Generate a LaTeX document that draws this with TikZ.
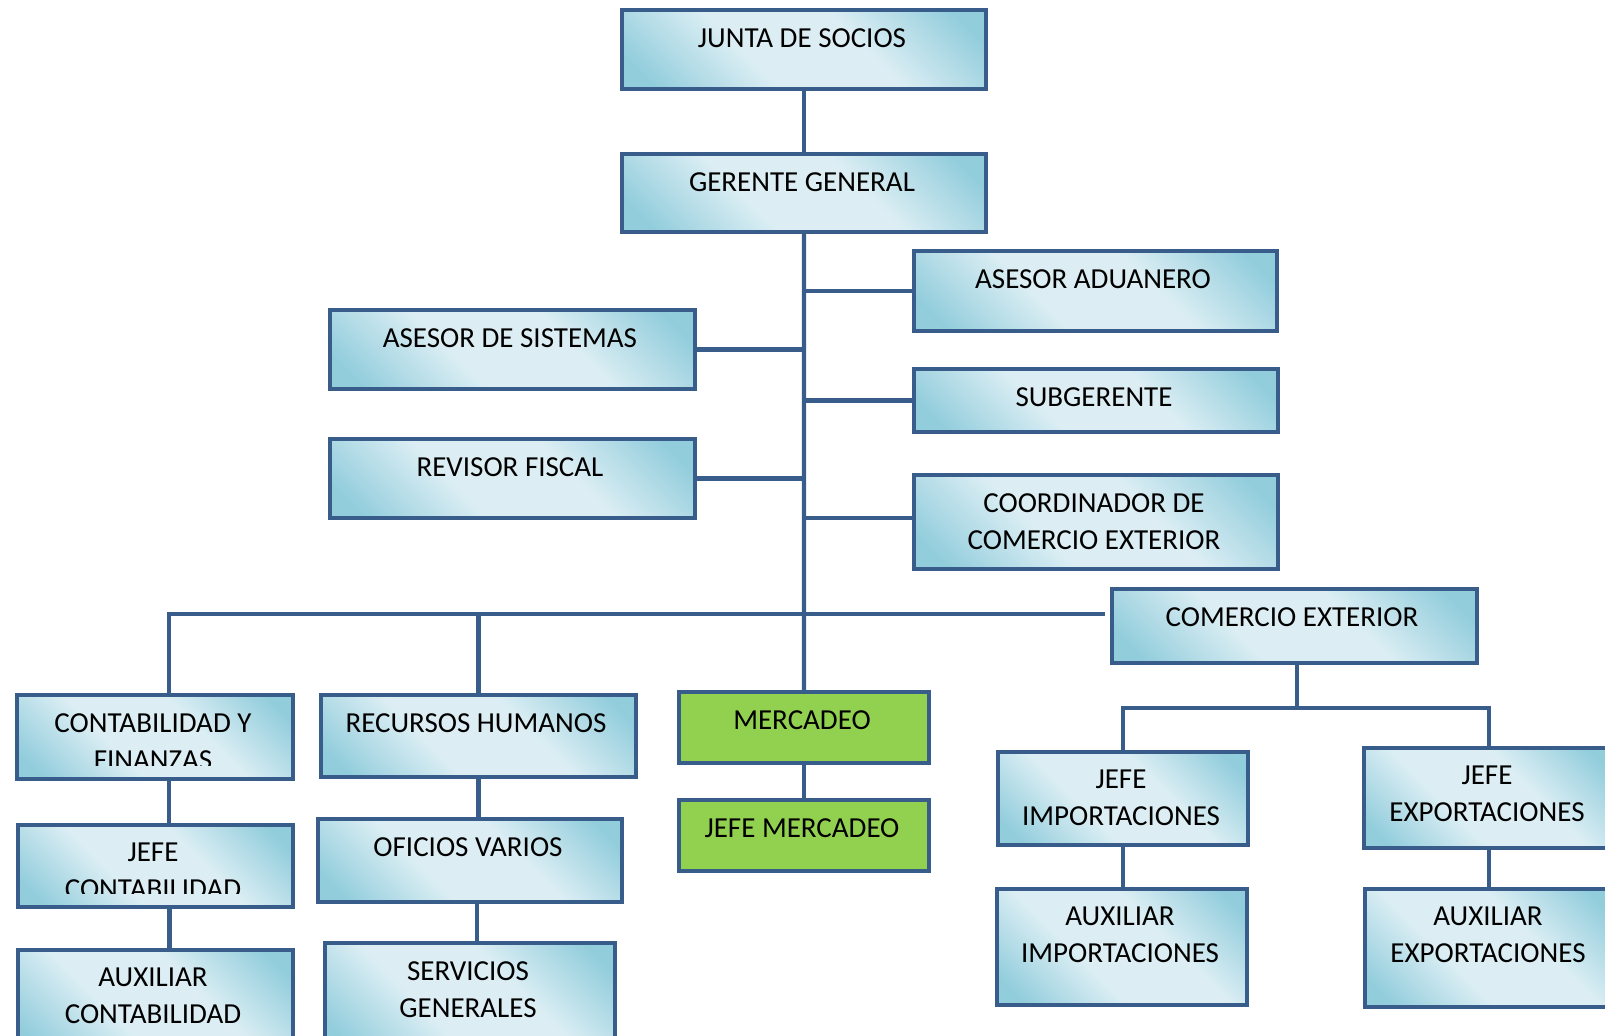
\documentclass[tikz,border=0pt]{standalone}
\usepackage{fontspec}
\setmainfont{Carlito}
\definecolor{borde}{HTML}{385D8A}
\definecolor{azuloscuro}{HTML}{92CDDC}
\definecolor{azulclaro}{HTML}{DCEEF4}
\definecolor{verde}{HTML}{92D050}
\pgfdeclareverticalshading{sombra}{100bp}{color(0bp)=(azuloscuro); color(20bp)=(azuloscuro); color(40bp)=(azulclaro); color(60bp)=(azulclaro); color(80bp)=(azuloscuro); color(100bp)=(azuloscuro)}
\begin{document}
\begin{tikzpicture}[x=0.02cm, y=-0.02cm,
	caja/.style={draw=borde, line width=2.2pt, shading=sombra, shading angle=-45, anchor=north west, inner sep=0pt},
	cajaverde/.style={draw=borde, line width=2.2pt, fill=verde, anchor=north west, inner sep=0pt},
	texto/.style={anchor=north, align=center, inner sep=0pt, font=\fontsize{16.5}{21}\selectfont},
	linea/.style={draw=borde, line width=2.4pt}]
	
	\useasboundingbox (0,0) rectangle (1605,1035);
	\clip (0,0) rectangle (1605,1035);
	
	% --- DIRECCION ---
	\node[caja, minimum width=7.28cm, minimum height=1.58cm] (jds) at (620,8) {};
	\node[texto] (jds-t) at (802,28) {JUNTA DE SOCIOS};
	\node[caja, minimum width=7.28cm, minimum height=1.56cm] (gg) at (620,152) {};
	\node[texto] (gg-t) at (802,172) {GERENTE GENERAL};
	
	% --- ASESORES A LOS LADOS ---
	\node[caja, minimum width=7.26cm, minimum height=1.60cm] (aa) at (912,249) {};
	\node[texto] (aa-t) at (1093,269) {ASESOR ADUANERO};
	\node[caja, minimum width=7.30cm, minimum height=1.58cm] (as) at (328,308) {};
	\node[texto] (as-t) at (510,328) {ASESOR DE SISTEMAS};
	\node[caja, minimum width=7.28cm, minimum height=1.26cm] (sg) at (912,367) {};
	\node[texto] (sg-t) at (1094,387) {SUBGERENTE};
	\node[caja, minimum width=7.30cm, minimum height=1.58cm] (rf) at (328,437) {};
	\node[texto] (rf-t) at (510,457) {REVISOR FISCAL};
	\node[caja, minimum width=7.28cm, minimum height=1.88cm] (cce) at (912,473) {};
	\node[texto] (cce-t) at (1094,493) {COORDINADOR DE\\COMERCIO EXTERIOR};
	\node[caja, minimum width=7.30cm, minimum height=1.48cm] (ce) at (1110,587) {};
	\node[texto] (ce-t) at (1292,607) {COMERCIO EXTERIOR};
	
	% --- AREAS ---
	\node[caja, minimum width=5.52cm, minimum height=1.68cm] (cf) at (15,693) {};
	\node[caja, minimum width=6.30cm, minimum height=1.64cm] (rh) at (319,693) {};
	\node[texto] (rh-t) at (476,713) {RECURSOS HUMANOS};
	\node[cajaverde, minimum width=5.00cm, minimum height=1.42cm] (me) at (677,690) {};
	\node[texto] (me-t) at (802,710) {MERCADEO};
	\node[cajaverde, minimum width=5.00cm, minimum height=1.42cm] (jm) at (677,798) {};
	\node[texto] (jm-t) at (802,818) {JEFE MERCADEO};
	\node[caja, minimum width=5.50cm, minimum height=1.64cm] (jc) at (16,823) {};
	\node[caja, minimum width=6.08cm, minimum height=1.66cm] (ov) at (316,817) {};
	\node[texto] (ov-t) at (468,837) {OFICIOS VARIOS};
	\node[caja, minimum width=5.50cm, minimum height=2.10cm] (ac) at (16,948) {};
	\node[texto] (ac-t) at (153,968) {AUXILIAR\\CONTABILIDAD};
	\node[caja, minimum width=5.80cm, minimum height=2.20cm] (sgn) at (323,941) {};
	\node[texto] (sgn-t) at (468,961) {SERVICIOS\\GENERALES};
	
	% texto cortado por la caja
	\begin{scope}
		\clip (17,695) rectangle (289,765);
		\node[texto] (cf-t) at (153,713) {CONTABILIDAD Y\\FINANZAS};
	\end{scope}
	\begin{scope}
		\clip (18,825) rectangle (289,893);
		\node[texto] (jc-t) at (153,843) {JEFE\\CONTABILIDAD};
	\end{scope}
	
	% --- IMPORTACIONES / EXPORTACIONES ---
	\node[caja, minimum width=5.00cm, minimum height=1.86cm] (ji) at (996,750) {};
	\node[texto] (ji-t) at (1121,770) {JEFE\\IMPORTACIONES};
	\node[caja, minimum width=5.00cm, minimum height=2.32cm] (ai) at (995,887) {};
	\node[texto] (ai-t) at (1120,907) {AUXILIAR\\IMPORTACIONES};
	\node[caja, minimum width=5.00cm, minimum height=2.00cm] (je) at (1362,746) {};
	\node[texto] (je-t) at (1487,766) {JEFE\\EXPORTACIONES};
	\node[caja, minimum width=5.00cm, minimum height=2.36cm] (ae) at (1363,887) {};
	\node[texto] (ae-t) at (1488,907) {AUXILIAR\\EXPORTACIONES};
	
	% --- LINEAS ---
	\coordinate (bus) at (802,614);
	\coordinate (bus2) at (1297,708);
	\draw[linea] (jds) -- (gg);
	\draw[linea] (gg) -- (me);
	\draw[linea] (aa.west) -- (aa.west -| gg.south);
	\draw[linea] (sg.west) -- (sg.west -| gg.south);
	\draw[linea] ([yshift=0.08cm]cce.west) -- ([yshift=0.08cm]cce.west -| gg.south);
	\draw[linea] (as.east) -- (as.east -| gg.south);
	\draw[linea] (rf.east) -- (rf.east -| gg.south);
	\draw[linea] ([xshift=0.28cm]cf.north) |- (bus) -- ([xshift=-0.1cm]bus -| ce.west);
	\draw[linea] (rh.north) -- (rh.north |- bus);
	\draw[linea] ([xshift=0.28cm]cf.south) -- ([xshift=0.28cm]cf.south |- jc.north);
	\draw[linea] ([xshift=0.28cm]jc.south) -- ([xshift=0.28cm]jc.south |- ac.north);
	\draw[linea] (rh.south) -- (rh.south |- ov.north);
	\draw[linea] ([xshift=0.14cm]ov.south) -- ([xshift=0.14cm]ov.south |- sgn.north);
	\draw[linea] (me) -- (jm);
	\draw[linea] (ce.south -| bus2) -- (bus2);
	\draw[linea] (ji.north) |- (bus2) -| (je.north);
	\draw[linea] (ji.south) -- (ji.south |- ai.north);
	\draw[linea] (je.south) -- (je.south |- ae.north);
\end{tikzpicture}
\end{document}
